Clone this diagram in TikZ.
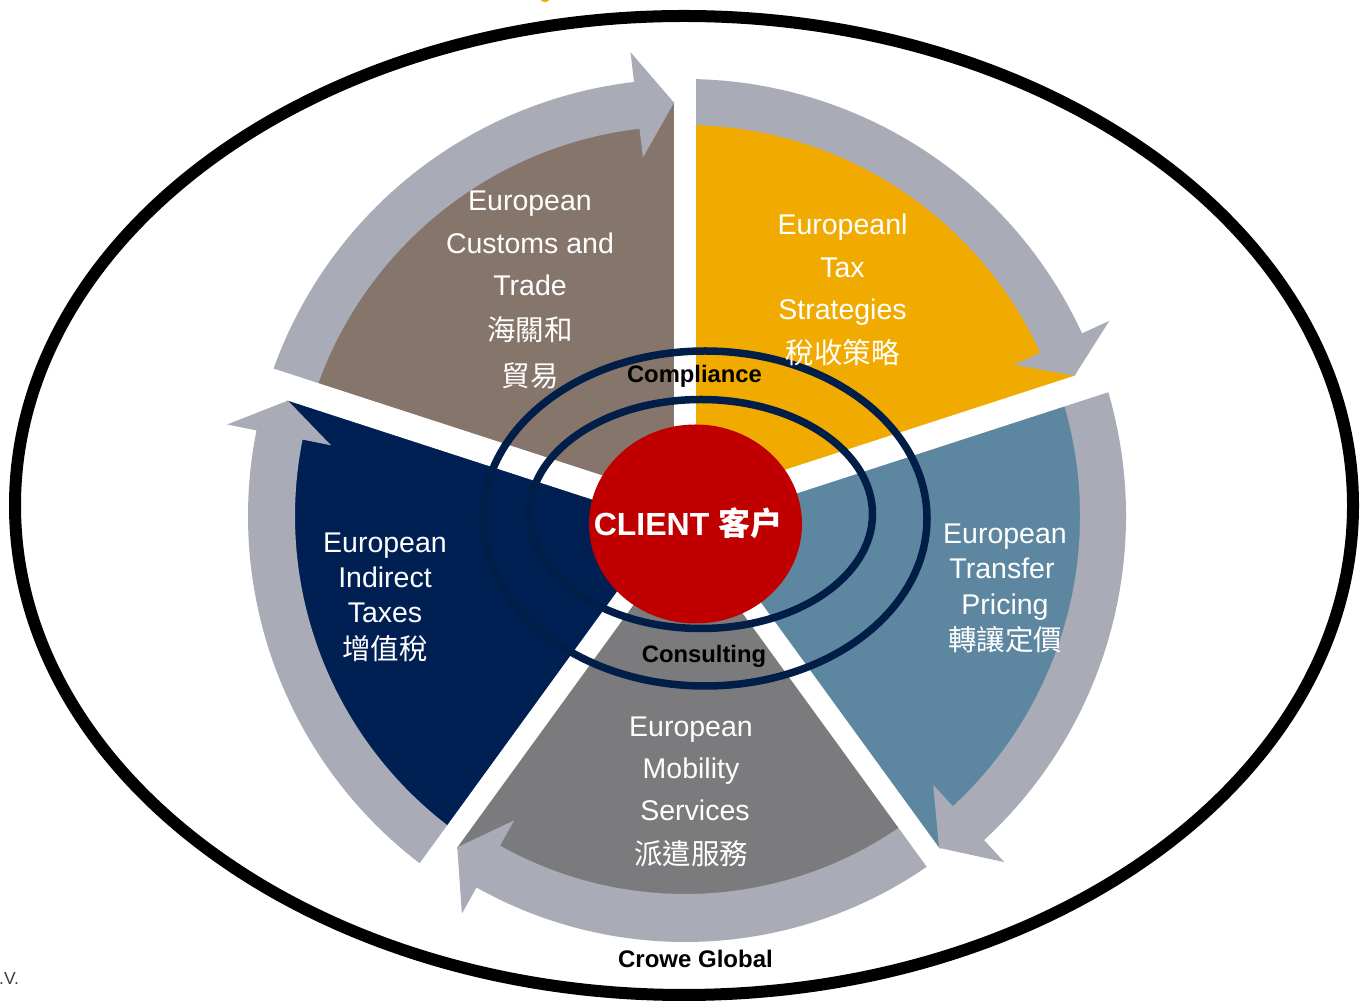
\documentclass[tikz,border=0pt]{standalone}
\usepackage{fontspec}
\newfontfamily\lsans{Liberation Sans}
\newfontfamily\cjk{Noto Sans CJK TC}
\definecolor{brownc}{RGB}{134,117,107}
\definecolor{yellowc}{RGB}{241,171,0}
\definecolor{tealc}{RGB}{93,135,161}
\definecolor{grayc}{RGB}{123,123,125}
\definecolor{navyc}{RGB}{0,32,84}
\definecolor{arrowc}{RGB}{169,171,183}
\definecolor{redc}{RGB}{192,0,0}
\definecolor{ringc}{RGB}{0,30,72}
% #1 start angle, #2 end angle, #3 inner radius, #4 outer radius, #5 tip offset
\newcommand\mkarrow[5]{%
  \fill[arrowc] (#1:#4) arc[start angle=#1, end angle={#2+6.7}, radius=#4]
    -- ({#2+6.7}:{#4+30}) -- ({#2+#5}:{(#3+#4)/2}) -- ({#2+6.7}:{#3-29})
    -- ({#2+6.7}:#3) arc[start angle={#2+6.7}, end angle=#1, radius=#3] -- cycle;}
\begin{document}
\begin{tikzpicture}[x=1pt,y=1pt,
  lbl/.style={text=white,font=\lsans\fontsize{28.5}{30}\selectfont,anchor=base,inner sep=0pt},
  clbl/.style={text=white,font=\cjk\fontsize{28.5}{30}\selectfont,anchor=base,inner sep=0pt},
  blbl/.style={text=black,font=\lsans\bfseries\fontsize{23.8}{25}\selectfont,anchor=base,inner sep=0pt},
  gapline/.style={white,line width=#1},
  ring/.style={draw=ringc,line width=7.5}]
\useasboundingbox (0,0) rectangle (1360,1001);
\fill[white] (0,0) rectangle (1360,1001);
% tiny mark at top
\fill[yellowc] (545,1001) ellipse [x radius=4, y radius=2];
% outer black ellipse
\draw[black,line width=12] (684,495.5) ellipse [x radius=669, y radius=489.5];
\begin{scope}[shift={(685,485)}]
  \fill[brownc] (0,0) -- (90:414) arc[start angle=90,end angle=162,radius=414] -- cycle;
  \fill[yellowc] (0,0) -- (18:415) arc[start angle=18,end angle=90,radius=415] -- cycle;
  \fill[tealc] (0,0) -- (-54:419) arc[start angle=-54,end angle=18,radius=419] -- cycle;
  \fill[grayc] (0,0) -- (-126:403) arc[start angle=-126,end angle=-54,radius=403] -- cycle;
  \fill[navyc] (0,0) -- (162:414) arc[start angle=162,end angle=234,radius=414] -- cycle;
  \mkarrow{162}{90}{390}{437}{1.52}
  \mkarrow{90}{18}{391}{437}{1.8}
  \mkarrow{18}{-54}{395}{441}{1.44}
  \mkarrow{-54}{-126}{378}{426}{1.5}
  \mkarrow{234}{162}{390}{437}{1.8}
  \draw[gapline=22] (0,0) -- (90:455);
  \draw[gapline=26] (0,0) -- (18:455);
  \draw[gapline=21] (0,0) -- (-54:455);
  \draw[gapline=21] (0,0) -- (-126:455);
  \draw[gapline=26] (0,0) -- (162:455);
\end{scope}
% client
\fill[redc] (695.5,477) ellipse [x radius=106.5, y radius=99.5];
\draw[ring] (705,482.5) ellipse [x radius=222, y radius=167.5];
\draw[ring] (701,487) ellipse [x radius=171.5, y radius=114.5];
\node[text=white,font=\lsans\bfseries\fontsize{32}{34}\selectfont,anchor=base,inner sep=0pt] (client) at (688,465) {CLIENT {\cjk\bfseries 客户}};
\node[blbl] (compl) at (694.5,618) {Compliance};
\node[blbl] (consult) at (704,338) {Consulting};
\node[blbl,font=\lsans\bfseries\fontsize{24}{26}\selectfont] (crowe) at (695.5,33) {Crowe Global};
% brown
\node[lbl] (b1) at (530,790) {European};
\node[lbl] (b2) at (530,747) {Customs and};
\node[lbl] (b3) at (530,705) {Trade};
\node[clbl] (b4) at (530,660) {海關和};
\node[clbl] (b5) at (530,614.5) {貿易};
% yellow
\node[lbl] (y1) at (842.5,766) {Europeanl};
\node[lbl] (y2) at (842.5,723) {Tax};
\node[lbl] (y3) at (842.5,681) {Strategies};
\node[clbl] (y4) at (842.5,637) {稅收策略};
% teal
\node[lbl] (t1) at (1005,457) {European};
\node[lbl] (t2) at (1002,422) {Transfer};
\node[lbl] (t3) at (1005,386) {Pricing};
\node[clbl] (t4) at (1005,350.5) {轉讓定價};
% navy
\node[lbl] (n1) at (385,448) {European};
\node[lbl] (n2) at (385,413) {Indirect};
\node[lbl] (n3) at (385,378) {Taxes};
\node[clbl] (n4) at (385,341) {增值稅};
% gray
\node[lbl] (g1) at (691,264) {European};
\node[lbl] (g2) at (691,222.5) {Mobility};
\node[lbl] (g3) at (695,180) {Services};
\node[clbl] (g4) at (691,136) {派遣服務};
% footer fragment
\node[font=\lsans\fontsize{17.5}{19}\selectfont,text={rgb,255:red,60;green,60;blue,60},anchor=base west,inner sep=0pt] (bv) at (-1,16) {.V.};
\end{tikzpicture}
\end{document}
